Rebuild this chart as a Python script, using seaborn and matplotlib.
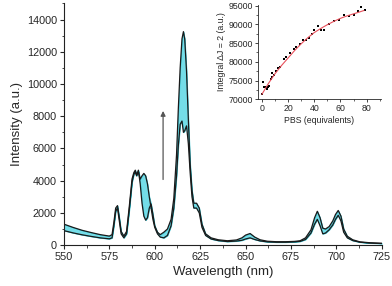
import numpy as np
import pandas as pd
import seaborn as sns
import matplotlib.pyplot as plt
from matplotlib.ticker import MultipleLocator

# espectros de emissao (inicio e fim da titulacao)
wavelength = [550, 555, 560, 565, 570, 575, 576.5, 577.5, 578.5, 579.5, 580.5, 581.5, 583, 584.5,
              586, 587.5, 588.5, 589.3, 590, 591, 592, 593, 594, 595, 596, 597, 598, 599, 600,
              601.5, 603, 605, 607, 609, 610.5, 612, 613, 614, 615, 615.8, 616.5, 617.5, 618.5,
              619.5, 620.5, 621.5, 623, 624.5, 626, 628, 631, 635, 640, 645, 648, 650, 652.5,
              655, 658, 662, 667, 672, 677, 680, 683, 686, 688, 689.5, 691, 692.5, 694, 696,
              698, 699.5, 701, 702.5, 704, 706, 709, 713, 718, 725]
intensity_start = [900, 760, 640, 540, 450, 390, 450, 1200, 2100, 2300, 1500, 700, 450, 700,
                   2200, 3900, 4400, 4550, 4300, 4550, 4100, 4300, 4450, 4300, 3800, 3000, 2300,
                   1600, 1100, 700, 500, 450, 600, 1200, 2300, 4300, 6200, 7500, 7700, 7000,
                   7100, 7400, 6300, 4500, 3000, 2300, 2300, 2000, 1100, 600, 380, 280, 220,
                   250, 300, 380, 450, 350, 260, 200, 180, 180, 200, 230, 350, 750, 1300, 1600,
                   1200, 700, 750, 950, 1250, 1600, 1850, 1500, 800, 450, 280, 180, 130, 100]
intensity_end = [1300, 1100, 920, 780, 650, 560, 650, 1400, 2300, 2450, 1700, 850, 560, 850,
                 2400, 4100, 4500, 4650, 4350, 4650, 3800, 2600, 1800, 1550, 1700, 2300, 2550,
                 1900, 1200, 800, 650, 800, 1000, 1600, 2900, 5600, 8500, 11000, 12800, 13250,
                 12800, 10800, 7800, 5000, 3400, 2600, 2600, 2300, 1300, 700, 450, 330, 270,
                 320, 450, 620, 720, 500, 330, 240, 210, 210, 230, 270, 450, 950, 1700, 2100,
                 1700, 1050, 1000, 1150, 1500, 1900, 2150, 1800, 1000, 550, 330, 200, 150, 110]

# inset: integral vs equivalentes de PBS
pbs_eq = [0, 0.8, 1.8, 3, 3.8, 4.6, 5.6, 7, 7.7, 8, 9.5, 10.7, 12.3, 14, 16.6, 18.7, 21.7,
          24.3, 26, 28.9, 31.5, 34, 36.3, 38, 40, 42.7, 45, 47.8, 51, 55, 59, 63, 66.5, 70.5,
          73.5, 76, 78.5]
integral = [71300, 74700, 73200, 73200, 72700, 73200, 73500, 75400, 76900, 76000, 76500, 77500,
            78400, 78700, 80700, 81300, 82400, 83300, 84000, 84800, 85700, 85900, 86400, 87300,
            88400, 89500, 88600, 88600, 90000, 90900, 91200, 92600, 92300, 92600, 93600, 94500,
            93800]
fit_x = [0, 5, 10, 15, 20, 25, 30, 35, 40, 45, 50, 55, 60, 65, 70, 75, 78]
fit_y = [71300, 74200, 76800, 79000, 81000, 83000, 84800, 86400, 87800, 88900, 89900, 90800,
         91600, 92250, 92800, 93350, 93700]

sns.set_theme(style='ticks')
plt.rcParams['font.family'] = ['Liberation Sans', 'DejaVu Sans']

df = pd.DataFrame({'wl': wavelength, 'a': intensity_start, 'b': intensity_end})

fig = plt.figure(figsize=(3.92, 2.86), dpi=100)
ax = fig.add_axes([0.163, 0.143, 0.811, 0.845])

ax.fill_between(df['wl'], np.minimum(df['a'], df['b']), np.maximum(df['a'], df['b']),
                color='#74dde8', edgecolor='#2ec6d6', linewidth=0.6)
sns.lineplot(data=df, x='wl', y='a', ax=ax, color='#1a1a1a', linewidth=0.9)
sns.lineplot(data=df, x='wl', y='b', ax=ax, color='#1a1a1a', linewidth=0.9)

ax.annotate('', xy=(604.6, 8500), xytext=(604.6, 3900),
            arrowprops=dict(arrowstyle='-|>', color='#555555', lw=0.9, mutation_scale=7))

ax.set_xlim(550, 725)
ax.set_ylim(0, 15000)
ax.set_xticks([550, 575, 600, 625, 650, 675, 700, 725])
ax.set_yticks(range(0, 14001, 2000))
ax.xaxis.set_minor_locator(MultipleLocator(12.5))
ax.yaxis.set_minor_locator(MultipleLocator(1000))
ax.tick_params(which='major', direction='out', length=3, width=0.8, labelsize=7.8, pad=2)
ax.tick_params(which='minor', direction='out', length=1.8, width=0.6)
ax.set_xlabel('Wavelength (nm)', fontsize=9.5, labelpad=3)
ax.set_ylabel('Intensity (a.u.)', fontsize=9.5, labelpad=3)
sns.despine(ax=ax)
for s in ['left', 'bottom']:
    ax.spines[s].set_linewidth(0.8)
    ax.spines[s].set_color('#222222')

# inset
ins = fig.add_axes([0.658, 0.653, 0.314, 0.33])
sns.lineplot(x=fit_x, y=fit_y, ax=ins, color='#e8505b', linewidth=0.8)
sns.scatterplot(x=pbs_eq, y=integral, ax=ins, color='black', marker='s', s=3, linewidth=0)
ins.set_xlim(-3, 91)
ins.set_ylim(70000, 95200)
ins.set_xticks([0, 20, 40, 60, 80])
ins.set_yticks(range(70000, 95001, 5000))
ins.xaxis.set_minor_locator(MultipleLocator(10))
ins.yaxis.set_minor_locator(MultipleLocator(2500))
ins.tick_params(which='major', direction='out', length=2.2, width=0.6, labelsize=6.3, pad=1.5)
ins.tick_params(which='minor', direction='out', length=1.2, width=0.5)
ins.set_xlabel('PBS (equivalents)', fontsize=6.3, labelpad=2)
ins.set_ylabel('Integral ΔJ = 2 (a.u.)', fontsize=6.3, labelpad=2)
ins.patch.set_alpha(0)
sns.despine(ax=ins)
for s in ['left', 'bottom']:
    ins.spines[s].set_linewidth(0.6)

fig.savefig('out.png', dpi=100)
